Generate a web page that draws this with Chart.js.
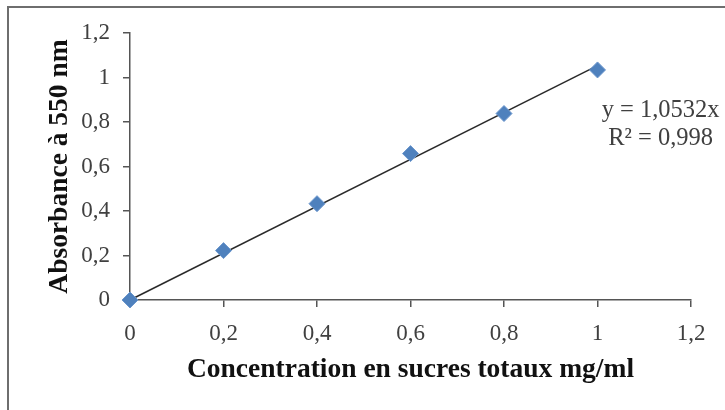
<!DOCTYPE html>
<html>
<head>
<meta charset="utf-8">
<script src="https://cdn.jsdelivr.net/npm/chart.js@4.4.1/dist/chart.umd.min.js"></script>
<style>
  html, body { margin: 0; padding: 0; background: #fff; overflow: hidden; }
  #wrap { position: relative; width: 725px; height: 410px; overflow: hidden; }
  #frame { position: absolute; left: 7px; top: 6px; width: 740px; height: 420px; border: 2px solid #6e6e6e; }
  #chart { position: absolute; left: 0; top: 0; }
</style>
</head>
<body>
<div id="wrap">
  <div id="frame"></div>
  <canvas id="chart" width="725" height="410"></canvas>
</div>
<script>
// Données
const concentrations = [0, 0.2, 0.4, 0.6, 0.8, 1.0];
const absorbances = [0, 0.222, 0.433, 0.658, 0.838, 1.034];

// Courbe de tendance (régression linéaire passant par l'origine)
const slope = 1.0532;
const r2 = 0.998;
const trendX = [0, 1.0];

const tickValues = [0, 0.2, 0.4, 0.6, 0.8, 1, 1.2];

const fmt = (v) => String(Math.round(v * 10) / 10).replace(".", ",");

// Texte de l'équation à droite
const equationLabel = {
  id: "equationLabel",
  afterDatasetsDraw(chart) {
    const { ctx, scales } = chart;
    const x = scales.x.getPixelForValue(1.135);
    const y = scales.y.getPixelForValue(0.85);
    ctx.save();
    ctx.fillStyle = "#404040";
    ctx.font = "24.5px 'Liberation Serif'";
    ctx.textAlign = "center";
    ctx.textBaseline = "middle";
    ctx.fillText("y = " + String(slope).replace(".", ",") + "x", x, y);
    ctx.fillText("R² = " + String(r2).replace(".", ","), x, y + 28);
    ctx.restore();
  },
};

const axisGrid = {
  drawOnChartArea: false,
  color: "#555",
  lineWidth: 1.5,
  tickLength: 7,
};

new Chart(document.getElementById("chart"), {
  type: "scatter",
  data: {
    datasets: [
      {
        label: "Absorbance",
        data: concentrations.map((x, i) => ({ x: x, y: absorbances[i] })),
        pointStyle: "rectRot",
        pointRadius: 8,
        backgroundColor: "#4f81bd",
        borderColor: "#6b96cc",
        borderWidth: 1,
        clip: false,
        order: 1,
      },
      {
        type: "line",
        label: "Tendance",
        data: trendX.map((x) => ({ x: x, y: slope * x })),
        borderColor: "#2a2a2a",
        borderWidth: 1.5,
        pointRadius: 0,
        fill: false,
        clip: false,
        order: 2,
      },
    ],
  },
  options: {
    responsive: false,
    animation: false,
    layout: {
      padding: { left: 39, top: 33, right: 34, bottom: 20 },
    },
    plugins: {
      legend: { display: false },
      tooltip: { enabled: false },
    },
    scales: {
      x: {
        type: "linear",
        min: 0,
        max: 1.2,
        afterBuildTicks: (scale) => {
          scale.ticks = tickValues.map((v) => ({ value: v }));
        },
        afterFit: (scale) => {
          scale.height = 90;
        },
        grid: axisGrid,
        border: { color: "#555", width: 1.5 },
        ticks: {
          color: "#404040",
          padding: 13,
          maxRotation: 0,
          font: { size: 23, family: "'Liberation Serif'" },
          callback: (value) => fmt(value),
        },
        title: {
          display: true,
          text: "Concentration en sucres totaux mg/ml",
          color: "#111",
          font: { size: 27.5, weight: "bold", family: "'Liberation Serif'" },
          padding: { top: 4, bottom: 4 },
        },
      },
      y: {
        type: "linear",
        min: 0,
        max: 1.2,
        afterBuildTicks: (scale) => {
          scale.ticks = tickValues.map((v) => ({ value: v }));
        },
        afterFit: (scale) => {
          scale.width = 91;
        },
        grid: axisGrid,
        border: { color: "#555", width: 1.5 },
        ticks: {
          color: "#404040",
          padding: 13,
          font: { size: 23, family: "'Liberation Serif'" },
          callback: (value) => fmt(value),
        },
        title: {
          display: true,
          text: "Absorbance à 550 nm",
          color: "#111",
          font: { size: 27.5, weight: "bold", family: "'Liberation Serif'" },
          padding: { top: 4, bottom: 4 },
        },
      },
    },
  },
  plugins: [equationLabel],
});
</script>
</body>
</html>
